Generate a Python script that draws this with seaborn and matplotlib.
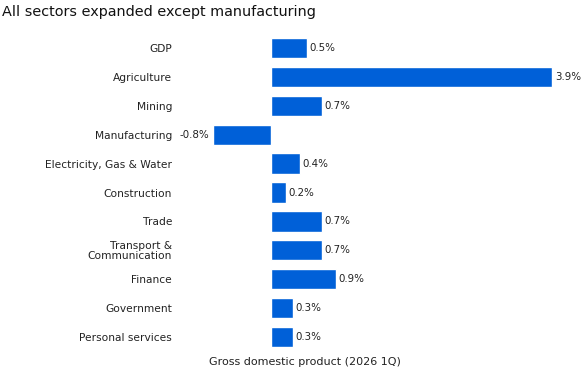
import matplotlib
matplotlib.use("Agg")
import matplotlib.pyplot as plt
import seaborn as sns
import pandas as pd

sectors = ["GDP", "Agriculture", "Mining", "Manufacturing",
           "Electricity, Gas & Water", "Construction", "Trade",
           "Transport &\nCommunication", "Finance", "Government",
           "Personal services"]
growth = [0.5, 3.9, 0.7, -0.8, 0.4, 0.2, 0.7, 0.7, 0.9, 0.3, 0.3]

df = pd.DataFrame({"sector": sectors, "growth": growth})

sns.set_theme(style="white")
plt.rcParams["font.family"] = ["DejaVu Sans"]

fig = plt.figure(figsize=(5.84, 3.72), dpi=100)
ax = fig.add_axes([0.347, 0.055, 0.615, 0.855])

bar_color = "#0060D8"
sns.barplot(data=df, x="growth", y="sector", orient="h", color=bar_color,
            width=0.7, saturation=1, ax=ax)

for patch, v in zip(ax.patches, growth):
    y = patch.get_y() + patch.get_height() / 2
    if v >= 0:
        ax.annotate(f"{v:.1f}%", (v, y), xytext=(1.8, 0), textcoords="offset points",
                    ha="left", va="center", fontsize=7.4, color="#222222",
                    annotation_clip=False)
    else:
        ax.annotate(f"{v:.1f}%", (v, y), xytext=(-3, 0), textcoords="offset points",
                    ha="right", va="center", fontsize=7.4, color="#222222")

ax.set_xlim(-0.95, 4.03)
ax.set_xticks([])
ax.set_xlabel("")
ax.set_ylabel("")
ax.tick_params(axis="y", length=0, pad=22, labelsize=7.7, labelcolor="#222222")
for lbl in ax.get_yticklabels():
    lbl.set_horizontalalignment("right")
    lbl.set_linespacing(1.0)
for s in ax.spines.values():
    s.set_visible(False)

fig.text(2 / 584, 1 - 12 / 372, "All sectors expanded except manufacturing",
         ha="left", va="center", fontsize=10.4, color="#111111")
fig.text(305 / 584, 1 - 362 / 372, "Gross domestic product (2026 1Q)",
         ha="center", va="center", fontsize=8, color="#222222")

fig.savefig("out.png", dpi=100)
